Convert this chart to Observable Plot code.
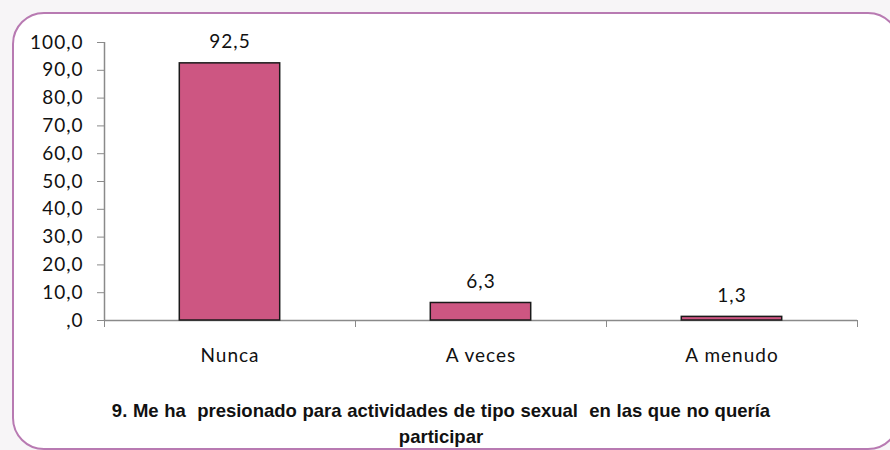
<!DOCTYPE html>
<html>
<head>
<meta charset="utf-8">
<script src="https://cdn.jsdelivr.net/npm/d3@7"></script>
<script src="https://cdn.jsdelivr.net/npm/@observablehq/plot@0.6"></script>
<style>
  html, body { margin: 0; padding: 0; width: 890px; height: 450px; overflow: hidden; background: #f7f5f7; }
  #frame { position: absolute; left: 12px; top: 12px; width: 884px; height: 434px; border: 2.5px solid #b87ab2; border-radius: 32px; background: #fff; }
  #chart { position: absolute; left: 0; top: 0; }
  #caption { position: absolute; left: 90px; width: 702px; top: 398px; text-align: center;
    font-family: "Liberation Sans Narrow", "Liberation Sans", Arial, sans-serif;
    font-weight: bold; font-size: 18.5px; line-height: 26px; color: #111; word-spacing: 0.5px; }
  #chart svg text { letter-spacing: 1px; }
</style>
</head>
<body>
<div id="frame"></div>
<div id="chart"></div>
<div id="caption">9. Me ha&nbsp; presionado para actividades de tipo sexual&nbsp; en las que no quería<br>participar</div>
<script>
const categories = ["Nunca", "A veces", "A menudo"];
const values = [92.5, 6.3, 1.3];
const yTicks = [0, 10, 20, 30, 40, 50, 60, 70, 80, 90, 100];

const data = categories.map((c, i) => ({cat: c, i, value: values[i]}));
const fmt = d => d === 0 ? ",0" : d.toFixed(1).replace(".", ",");
const font = "Lato, 'Open Sans', sans-serif";

const chart = Plot.plot({
  width: 890,
  height: 385,
  marginLeft: 104,
  marginRight: 33,
  marginTop: 42,
  marginBottom: 65,
  style: {fontFamily: font, fontSize: "19px", color: "#111", background: "transparent"},
  x: {type: "linear", domain: [0, categories.length]},
  y: {domain: [0, 100]},
  marks: [
    Plot.axisY({ticks: yTicks, tickFormat: fmt, tickSize: 7, tickPadding: 14, stroke: "#8a8a8a", strokeOpacity: 1, fontSize: 19, label: null}),
    Plot.ruleX([0], {stroke: "#8a8a8a", strokeWidth: 1.5}),
    Plot.ruleY([0], {stroke: "#8a8a8a", strokeWidth: 1.5, x1: 0, x2: categories.length}),
    Plot.axisX({ticks: d3.range(categories.length + 1), tickFormat: () => "", tickSize: 7, stroke: "#8a8a8a", strokeOpacity: 1, label: null}),
    Plot.axisX({ticks: categories.map((c, i) => i + 0.5), tickFormat: d => categories[Math.floor(d)], tickSize: 0, tickPadding: 28, fontSize: 19, label: null}),
    Plot.rectY(data, {x1: d => d.i + 0.3, x2: d => d.i + 0.7, y1: 0, y2: "value", fill: "#cd5682", stroke: "#1a1a1a", strokeWidth: 1.5}),
    Plot.text(data, {x: d => d.i + 0.5, y: "value", text: d => fmt(d.value), dy: -21, fontSize: 19, fill: "#111"})
  ]
});
document.getElementById("chart").appendChild(chart);
</script>
</body>
</html>
